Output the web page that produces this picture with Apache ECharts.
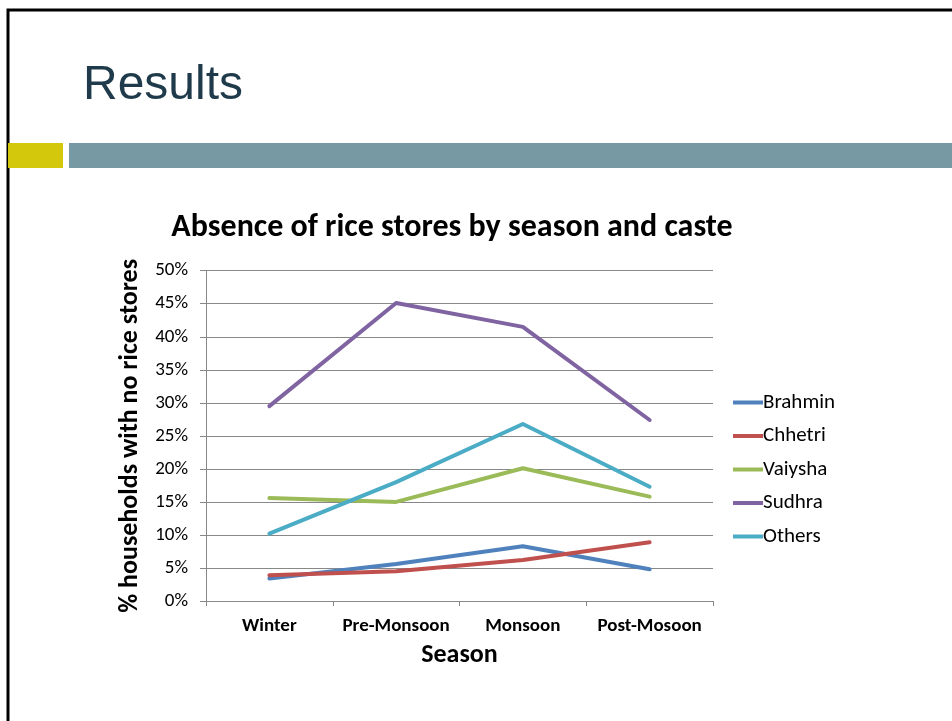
<!DOCTYPE html>
<html>
<head>
<meta charset="utf-8">
<script src="https://cdn.jsdelivr.net/npm/echarts@6/dist/echarts.min.js"></script>
<style>
html,body{margin:0;padding:0;background:#fff;}
#c{width:952px;height:721px;}
</style>
</head>
<body>
<div id="c"></div>
<script>
var categories = ['Winter', 'Pre-Monsoon', 'Monsoon', 'Post-Mosoon'];
var brahmin = [3.4, 5.6, 8.3, 4.8];
var chhetri = [3.9, 4.5, 6.2, 8.9];
var vaiysha = [15.6, 15.0, 20.1, 15.8];
var sudhra = [29.5, 45.1, 41.5, 27.4];
var others = [10.2, 18.0, 26.8, 17.3];
var seriesNames = ['Brahmin', 'Chhetri', 'Vaiysha', 'Sudhra', 'Others'];
var seriesColors = ['#4F81BD', '#C0504D', '#9BBB59', '#8064A2', '#4BACC6'];
var yTicks = [0, 5, 10, 15, 20, 25, 30, 35, 40, 45, 50];

var FONT = 'Carlito, Lato, "Liberation Sans", sans-serif';
var chart = echarts.init(document.getElementById('c'));
var allData = [brahmin, chhetri, vaiysha, sudhra, others];
var series = seriesNames.map(function (n, i) {
  return {
    name: n, type: 'line', data: allData[i], symbol: 'none',
    lineStyle: { width: 4, color: seriesColors[i], cap: 'round', join: 'round' },
    itemStyle: { color: seriesColors[i] }
  };
});

chart.setOption({
  animation: false,
  graphic: [
    { type: 'rect', shape: { x: 8, y: 10, width: 960, height: 730 }, style: { fill: 'none', stroke: '#000', lineWidth: 3 } },
    { type: 'text', left: 83, top: 62, style: { text: 'Results', font: '48px "Liberation Sans", Arial, sans-serif', fill: '#1F3A4A' } },
    { type: 'rect', shape: { x: 8, y: 143, width: 55, height: 25 }, style: { fill: '#D3C80B' } },
    { type: 'rect', shape: { x: 69, y: 143, width: 890, height: 25 }, style: { fill: '#7699A4' } }
  ],
  title: {
    text: 'Absence of rice stores by season and caste',
    left: 447, top: 207, textAlign: 'center',
    textStyle: { fontFamily: FONT, fontWeight: 'bold', fontSize: 32, color: '#000' }
  },
  legend: {
    orient: 'vertical', left: 733, top: 392, itemGap: 12.5, padding: 0,
    itemWidth: 30, itemHeight: 4, icon: 'rect',
    textStyle: { fontFamily: FONT, fontSize: 21, color: '#000', padding: [0, 0, 0, -5] },
    data: seriesNames
  },
  grid: { left: 206, right: 239, top: 270.7, bottom: 120, containLabel: false },
  xAxis: {
    type: 'category', data: categories, boundaryGap: true,
    name: 'Season', nameLocation: 'middle', nameGap: 41,
    nameTextStyle: { fontFamily: FONT, fontWeight: 'bold', fontSize: 26, color: '#000' },
    axisLine: { lineStyle: { color: '#888', width: 1 } },
    axisTick: { show: true, length: 5, lineStyle: { color: '#888' } },
    axisLabel: { interval: 0, hideOverlap: false, fontFamily: FONT, fontWeight: 'bold', fontSize: 19, color: '#000', margin: 16 }
  },
  yAxis: {
    type: 'value', min: 0, max: 50, interval: 5,
    name: '% households with no rice stores', nameLocation: 'middle', nameGap: 63, nameRotate: 90,
    nameTextStyle: { fontFamily: FONT, fontWeight: 'bold', fontSize: 26, color: '#000' },
    axisLine: { show: true, lineStyle: { color: '#888', width: 1 } },
    axisTick: { show: true, length: 6, inside: false, lineStyle: { color: '#888' } },
    axisLabel: { fontFamily: FONT, fontSize: 19, color: '#000', margin: 18, formatter: function (v) { return yTicks.indexOf(v) >= 0 ? v + '%' : ''; } },
    splitLine: { lineStyle: { color: '#888', width: 1 } }
  },
  series: series
});
</script>
</body>
</html>
